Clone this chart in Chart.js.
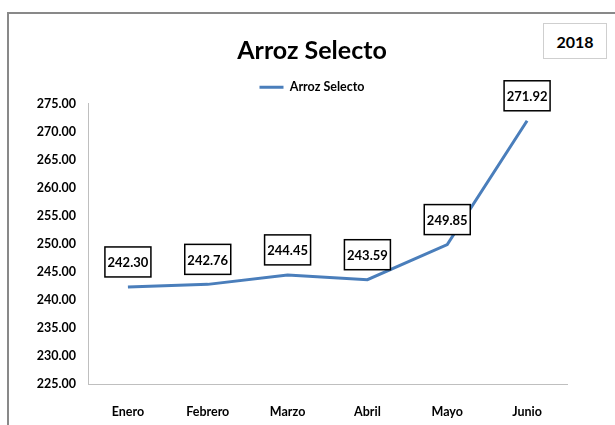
<!DOCTYPE html>
<html><head><meta charset="utf-8">
<script src="https://cdn.jsdelivr.net/npm/chart.js@4"></script>
<style>
html,body{margin:0;padding:0;background:#fff;overflow:hidden}
#wrap{position:relative;width:615px;height:425px;overflow:hidden}
#frame{position:absolute;left:7px;top:12px;width:700px;height:500px;border-left:2px solid #898989;border-top:2px solid #898989;box-sizing:border-box}
#yearBox{position:absolute;left:543px;top:23px;width:64px;height:36px;border:1px solid #cfcfcf;box-sizing:border-box;font:bold 16px Lato, sans-serif;display:flex;align-items:center;justify-content:center;background:#fff;color:#000}
canvas{position:absolute;left:0;top:0}
</style></head>
<body><div id="wrap"><div id="frame"></div><canvas id="c" width="615" height="425"></canvas><div id="yearBox"></div></div>
<script>
const categories = ['Enero','Febrero','Marzo','Abril','Mayo','Junio'];
const prices = [242.30, 242.76, 244.45, 243.59, 249.85, 271.92];
const seriesName = 'Arroz Selecto';
const chartTitle = 'Arroz Selecto';
const yearLabel = '2018';
const yMin = 225, yMax = 275, yStep = 5;

document.getElementById('yearBox').textContent = yearLabel;
const FONT = 'Lato, sans-serif';

const boxLabels = {
  id: 'boxLabels',
  afterDatasetsDraw(chart) {
    const ctx = chart.ctx;
    const meta = chart.getDatasetMeta(0);
    ctx.save();
    ctx.font = 'bold 13px ' + FONT;
    meta.data.forEach((pt, i) => {
      const txt = prices[i].toFixed(2);
      const w = 46, h = 30;
      const x = pt.x - w / 2, y = pt.y - 10 - h;
      ctx.fillStyle = '#fff';
      ctx.fillRect(x, y, w, h);
      ctx.lineWidth = 1.5;
      ctx.strokeStyle = '#000';
      ctx.strokeRect(x, y, w, h);
      ctx.fillStyle = '#000';
      ctx.textAlign = 'center';
      ctx.textBaseline = 'middle';
      ctx.fillText(txt, pt.x, y + h / 2 + 1);
    });
    ctx.restore();
  }
};

new Chart(document.getElementById('c'), {
  type: 'line',
  data: {
    labels: categories,
    datasets: [{
      label: seriesName,
      data: prices,
      borderColor: '#4a7ebb',
      backgroundColor: '#4a7ebb',
      borderWidth: 3,
      pointRadius: 0,
      tension: 0,
      fill: false
    }]
  },
  options: {
    responsive: false,
    animation: false,
    layout: { padding: { left: 9, top: 0, right: 0, bottom: 0 } },
    plugins: {
      title: {
        display: true,
        text: chartTitle,
        color: '#000',
        font: { family: FONT, size: 25, weight: 'bold' },
        padding: { top: 36, bottom: 10 }
      },
      legend: {
        display: true,
        labels: {
          usePointStyle: true,
          pointStyle: 'line',
          pointStyleWidth: 24,
          color: '#000',
          font: { family: FONT, size: 12.5, weight: 'bold' },
          padding: 5
        }
      },
      tooltip: { enabled: false }
    },
    scales: {
      x: {
        offset: true,
        grid: { display: false, drawTicks: false },
        border: { color: '#bfbfbf', width: 1 },
        ticks: { color: '#000', font: { family: FONT, size: 12.5, weight: 'bold' }, padding: 20, maxRotation: 0 },
        afterFit: s => { s.height = 41; }
      },
      y: {
        min: yMin, max: yMax,
        grid: { display: false, drawTicks: false },
        border: { color: '#bfbfbf', width: 1 },
        ticks: { stepSize: yStep, color: '#000', font: { family: FONT, size: 12.5, weight: 'bold' }, padding: 12,
                 callback: v => Number(v).toFixed(2) },
        afterFit: s => { s.width = 79; }
      },
      yR: {
        position: 'right', type: 'linear', min: 0, max: 1,
        grid: { display: false, drawTicks: false },
        border: { display: false },
        ticks: { display: false },
        afterFit: s => { s.width = 48; }
      }
    }
  },
  plugins: [boxLabels]
});
</script>
</body></html>
